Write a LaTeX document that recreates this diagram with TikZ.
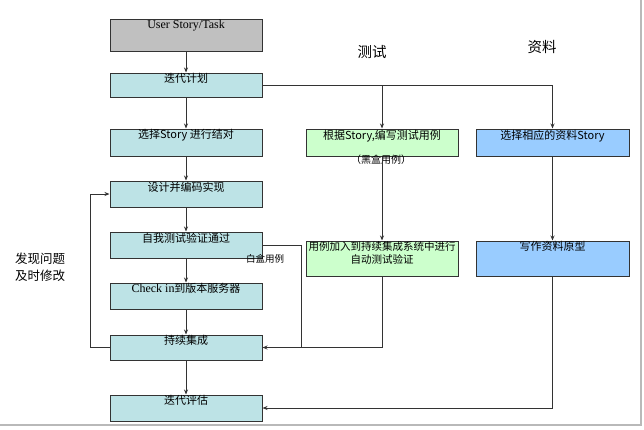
\documentclass[tikz,border=0pt]{standalone}
\usepackage{fontspec}
\setmainfont{Noto Sans CJK SC}
\newfontfamily\lserif{Liberation Serif}
\usetikzlibrary{arrows.meta}
\definecolor{boxgray}{HTML}{C0C0C0}
\definecolor{boxcyan}{HTML}{BDE3E6}
\definecolor{boxgreen}{HTML}{CCFFCC}
\definecolor{boxblue}{HTML}{99CCFF}
\definecolor{linec}{HTML}{333333}
\tikzset{
  box/.style={draw=linec, line width=1pt, minimum width=152pt, inner sep=0pt},
  boxlabel/.style={anchor=north, inner sep=1pt, font=\fontsize{11}{13}\selectfont, align=center},
  conn/.style={draw=linec, line width=1pt},
  arr/.style={conn, -{Stealth[length=5pt,width=4pt]}},
}
\begin{document}
\begin{tikzpicture}[x=1pt,y=-1pt]
\useasboundingbox (0,0) rectangle (644,429);
\fill[white] (0,0) rectangle (644,429);
\draw[gray!55, line width=1.5pt] (641,0) -- (641,425) -- (0,425);
% left column
\node[box, fill=boxgray, minimum height=32pt, label={[boxlabel]north:{\lserif\fontsize{12}{13}\selectfont User Story/Task}}] (A) at (186,35) {};
\node[box, fill=boxcyan, minimum height=24pt, label={[boxlabel]north:迭代计划}] (B) at (186,85) {};
\node[box, fill=boxcyan, minimum height=27pt, label={[boxlabel]north:选择Story 进行结对}] (C) at (186,142.5) {};
\node[box, fill=boxcyan, minimum height=26pt, label={[boxlabel]north:设计并编码实现}] (D) at (186,194) {};
\node[box, fill=boxcyan, minimum height=26pt, label={[boxlabel]north:自我测试验证通过}] (E) at (186,245) {};
\node[box, fill=boxcyan, minimum height=26pt, label={[boxlabel]north:{{\lserif\fontsize{12}{13}\selectfont Check in}到版本服务器}}] (F) at (186,296) {};
\node[box, fill=boxcyan, minimum height=25pt, label={[boxlabel]north:持续集成}] (G) at (186,347.5) {};
\node[box, fill=boxcyan, minimum height=26pt, label={[boxlabel]north:迭代评估}] (H) at (186,408) {};
% middle column
\node[font=\fontsize{14.5}{16}\selectfont] (T1) at (372,52) {测试};
\node[box, fill=boxgreen, minimum height=27pt, label={[boxlabel]north:根据Story,编写测试用例}] (M1) at (382,142.5) {};
\node[font=\fontsize{10}{11}\selectfont, inner sep=0pt] (M1n) at (381,160) {（黑盒用例）};
\node[box, fill=boxgreen, minimum height=35pt, label={[boxlabel, font=\fontsize{10.5}{13}\selectfont]north:{用例加入到持续集成系统中进行\\自动测试验证}}] (M2) at (382,258.5) {};
% right column
\node[font=\fontsize{14.5}{16}\selectfont] (T2) at (542,47) {资料};
\node[box, fill=boxblue, minimum height=27pt, minimum width=153pt, label={[boxlabel]north:选择相应的资料Story}] (R1) at (552.5,142.5) {};
\node[box, fill=boxblue, minimum height=35pt, minimum width=153pt, label={[boxlabel]north:写作资料原型}] (R2) at (552.5,258.5) {};
% side labels
\node[font=\fontsize{12.5}{16.5}\selectfont, align=center] (L) at (40,267) {发现问题\\及时修改};
\node[font=\fontsize{9.5}{11}\selectfont, inner sep=0pt] (W) at (265,259) {白盒用例};
% connectors
\draw[arr] (A) -- (B);
\draw[arr] (B) -- (C);
\draw[arr] (C) -- (D);
\draw[arr] (D) -- (E);
\draw[arr] (E) -- (F);
\draw[arr] (F) -- (G);
\draw[arr] (G) -- (H);
\draw[arr] (B.east) -| (R1.north);
\draw[arr] (M1.north |- B.east) -- (M1.north);
\draw[arr] (M1.south) -- (M2.north);
\draw[arr] (R1.south) -- (R2.north);
\draw[arr] (R2.south) |- (H.east);
\draw[arr] (M2.south) |- (G.east);
\draw[conn] (E.east) -- ++(39,0) |- (G.east);
\draw[arr] (G.west) -- ++(-19,0) |- (D.west);
\end{tikzpicture}
\end{document}
